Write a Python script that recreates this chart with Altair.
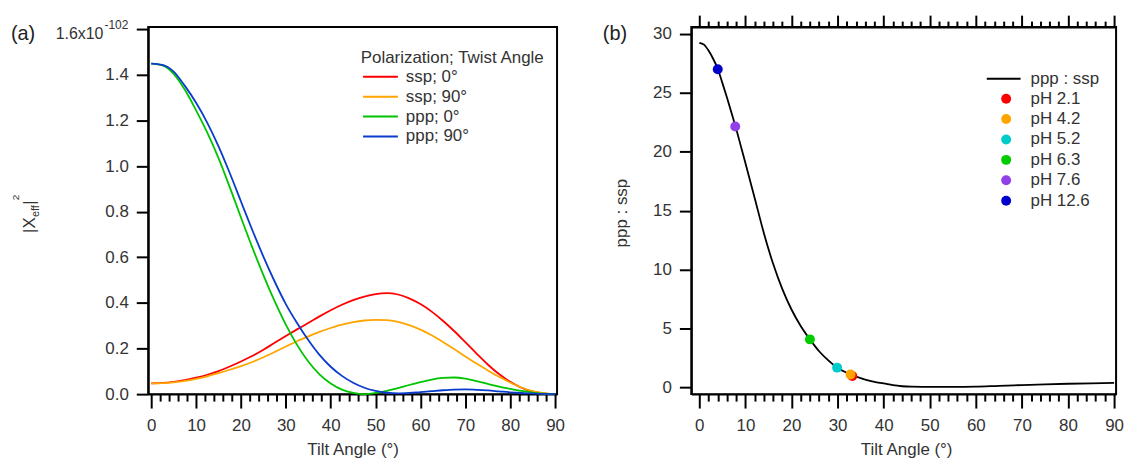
import altair as alt
import pandas as pd

FONT = "Liberation Sans"
TXT = "#333333"

# ---------------- Panel (a) data ----------------
tilt_a = [0, 2.5, 5, 7.5, 10, 12.5, 15, 17.5, 20, 22.5, 25, 27.5, 30, 32.5, 35, 37.5,
          40, 42.5, 45, 47.5, 50, 52.5, 55, 57.5, 60, 62.5, 65, 67.5, 70, 72.5, 75,
          77.5, 80, 82.5, 85, 87.5, 90]
ssp_0 = [0.047, 0.049, 0.054, 0.061, 0.072, 0.085, 0.101, 0.121, 0.143, 0.167, 0.195,
         0.225, 0.255, 0.284, 0.312, 0.341, 0.368, 0.392, 0.412, 0.428, 0.439, 0.443,
         0.437, 0.420, 0.395, 0.362, 0.322, 0.277, 0.228, 0.178, 0.130, 0.088, 0.054,
         0.028, 0.011, 0.003, 0.0]
ssp_90 = [0.047, 0.048, 0.052, 0.058, 0.067, 0.078, 0.092, 0.107, 0.123, 0.141, 0.162,
          0.185, 0.209, 0.232, 0.253, 0.273, 0.290, 0.305, 0.316, 0.323, 0.326, 0.325,
          0.317, 0.303, 0.283, 0.258, 0.229, 0.198, 0.165, 0.134, 0.104, 0.076, 0.051,
          0.029, 0.013, 0.004, 0.0]
ppp_0 = [1.450, 1.442, 1.405, 1.335, 1.245, 1.147, 1.035, 0.908, 0.775, 0.645, 0.522,
         0.408, 0.305, 0.216, 0.143, 0.087, 0.047, 0.020, 0.006, 0.0, 0.005, 0.014,
         0.026, 0.040, 0.053, 0.064, 0.071, 0.073, 0.068, 0.057, 0.045, 0.033, 0.023,
         0.014, 0.007, 0.002, 0.0]
ppp_90 = [1.450, 1.444, 1.415, 1.352, 1.278, 1.190, 1.087, 0.970, 0.845, 0.721, 0.603,
          0.494, 0.395, 0.312, 0.237, 0.172, 0.120, 0.080, 0.050, 0.028, 0.014, 0.006,
          0.003, 0.005, 0.009, 0.013, 0.017, 0.020, 0.021, 0.019, 0.016, 0.012, 0.008,
          0.005, 0.003, 0.001, 0.0]
series_a = ["ssp; 0°", "ssp; 90°", "ppp; 0°", "ppp; 90°"]
colors_a = ["#ff0000", "#ffa500", "#00c400", "#0a3ccc"]

# ---------------- Panel (b) data ----------------
tilt_b = [0, 1, 2, 3, 4, 5, 6, 7, 8, 9, 10, 12, 14, 16, 18, 20, 22, 24, 26, 28, 30, 32,
          34, 36, 38, 40, 42, 44, 46, 50, 55, 60, 65, 70, 75, 80, 85, 90]
ratio_b = [29.25, 29.1, 28.6, 27.9, 27.05, 25.85, 24.6, 23.3, 21.95, 20.5, 19.05, 16.1,
           13.1, 10.5, 8.35, 6.6, 5.2, 4.06, 3.05, 2.27, 1.63, 1.23, 0.91, 0.65, 0.45,
           0.32, 0.17, 0.08, 0.04, 0.03, 0.03, 0.05, 0.12, 0.18, 0.24, 0.29, 0.33, 0.36]
curve_name = ["ppp : ssp"]
ph_labels = ["pH 2.1", "pH 4.2", "pH 5.2", "pH 6.3", "pH 7.6", "pH 12.6"]
ph_tilt = [33.2, 32.8, 29.9, 24.0, 7.8, 4.0]
ph_ratio = [0.95, 1.07, 1.66, 4.06, 22.15, 27.0]
ph_colors = ["#ff0000", "#ffa500", "#00cccc", "#00cc00", "#9040e6", "#0000cc"]

x_ticks = list(range(0, 91, 2))
ya_ticks = [0.0, 0.2, 0.4, 0.6, 0.8, 1.0, 1.2, 1.4, 1.6]
yb_ticks = [0, 5, 10, 15, 20, 25, 30]


def x_axis(orient="bottom", labels=True, major=14, minor=7):
    return alt.Axis(
        orient=orient, values=x_ticks, title=None, grid=False, labels=labels,
        tickSize={"condition": {"test": "datum.value % 10 === 0", "value": major}, "value": minor},
        labelExpr="datum.value % 10 === 0 ? datum.label : ''",
        labelOverlap=False, labelFlush=False, labelPadding=10, labelBaseline="top",
    )


def text(t, x, y, size=17, angle=0, align="left", baseline="alphabetic", color=TXT):
    return alt.Chart(pd.DataFrame({"t": [t]})).mark_text(
        align=align, baseline=baseline, fontSize=size, font=FONT, color=color, angle=angle
    ).encode(text="t:N", x=alt.value(x), y=alt.value(y))


# ---------------- Panel (a) ----------------
df_a = pd.DataFrame({
    "tilt": tilt_a * 4,
    "val": ssp_0 + ssp_90 + ppp_0 + ppp_90,
    "series": sum([[s] * len(tilt_a) for s in series_a], []),
})
xa = alt.Scale(domain=[-0.67, 90.44], nice=False, zero=False)
ya = alt.Scale(domain=[0, 1.61], nice=False, zero=False)

lines_a = alt.Chart(df_a).mark_line(strokeWidth=1.8, interpolate="monotone").encode(
    x=alt.X("tilt:Q", scale=xa, axis=x_axis()),
    y=alt.Y("val:Q", scale=ya, axis=alt.Axis(
        values=ya_ticks, title=None, grid=False, tickSize=12, labelPadding=8,
        labelExpr="datum.value > 1.5 ? '' : format(datum.value, '.1f')")),
    color=alt.Color("series:N", sort=series_a,
                    scale=alt.Scale(domain=series_a, range=colors_a),
                    legend=alt.Legend(orient="none", legendX=215, legendY=40, title=None,
                                      symbolType="stroke", symbolSize=1225, symbolStrokeWidth=2,
                                      labelOffset=7, clipHeight=20, rowPadding=0, padding=0,
                                      labelFontSize=17, labelFont=FONT, labelColor=TXT)),
)

panel_a = alt.layer(
    lines_a,
    text("(a)", -138, 12.5, size=20, color="#222222"),
    text("1.6x10", -45, 12, size=16, align="right"),
    text("-102", -44, 1.5, size=12),
    text("|X", -113.5, 207, angle=270),
    text("eff", -110, 191, size=11, angle=270),
    text("|", -113.5, 178.5, angle=270),
    text("2", -129.5, 174, size=10, angle=270),
    text("Polarization; Twist Angle", 213.7, 36),
    text("Tilt Angle (°)", 206, 430, align="center"),
).properties(width=411, height=369)

# ---------------- Panel (b) ----------------
df_b = pd.DataFrame({"tilt": tilt_b, "ratio": ratio_b, "name": curve_name * len(tilt_b)})
df_p = pd.DataFrame({"tilt": ph_tilt, "ratio": ph_ratio, "ph": ph_labels, "k": list(range(6))})
xb = alt.Scale(domain=[-1.73, 90.43], nice=False, zero=False)
yb = alt.Scale(domain=[-0.59, 30.59], nice=False, zero=False)
yb_axis = alt.Axis(values=yb_ticks, title=None, grid=False, tickSize=12, labelPadding=8, format="d")

line_b = alt.Chart(df_b).mark_line(strokeWidth=1.8, interpolate="monotone").encode(
    x=alt.X("tilt:Q", scale=xb, axis=x_axis()),
    y=alt.Y("ratio:Q", scale=yb, axis=yb_axis),
    stroke=alt.Stroke("name:N", scale=alt.Scale(domain=curve_name, range=["#000000"]),
                      legend=alt.Legend(orient="none", legendX=296, legendY=42, title=None,
                                        symbolType="stroke", symbolSize=1156, symbolStrokeWidth=2,
                                        labelOffset=9, clipHeight=20, padding=0,
                                        labelFontSize=17, labelFont=FONT, labelColor=TXT)),
)

pts_b = alt.Chart(df_p).mark_circle(size=100, opacity=1).encode(
    x=alt.X("tilt:Q", scale=xb, axis=x_axis(orient="top", labels=False, major=12, minor=6)),
    y=alt.Y("ratio:Q", scale=yb, axis=yb_axis),
    color=alt.Color("ph:N", sort=ph_labels,
                    scale=alt.Scale(domain=ph_labels, range=ph_colors),
                    legend=alt.Legend(orient="none", legendX=308, legendY=62, title=None,
                                      symbolType="circle", symbolSize=100, symbolOpacity=1,
                                      labelOffset=16, clipHeight=20, rowPadding=0.5, padding=0,
                                      labelFontSize=17, labelFont=FONT, labelColor=TXT)),
    order=alt.Order("k:Q"),
)

panel_b = alt.layer(
    line_b, pts_b,
    text("(b)", -89, 12.5, size=20, color="#222222"),
    text("ppp : ssp", -65, 187, angle=270, align="center"),
    text("Tilt Angle (°)", 216.5, 430, align="center"),
).resolve_axis(x="independent").resolve_scale(color="independent", stroke="independent").properties(
    width=427, height=369)

chart = alt.hconcat(panel_a, panel_b, spacing=135, bounds="flush").resolve_scale(
    color="independent", stroke="independent"
).resolve_legend(color="independent", stroke="independent").properties(
    padding={"left": 10, "top": 12, "right": 5, "bottom": 0},
    background="white",
).configure_view(
    stroke="black", strokeWidth=2
).configure_axis(
    domainColor="black", domainWidth=2, tickColor="black", tickWidth=2,
    labelFont=FONT, labelFontSize=17, labelColor=TXT, grid=False,
)

chart.save("out.html", embed_options={"renderer": "svg", "actions": False})
